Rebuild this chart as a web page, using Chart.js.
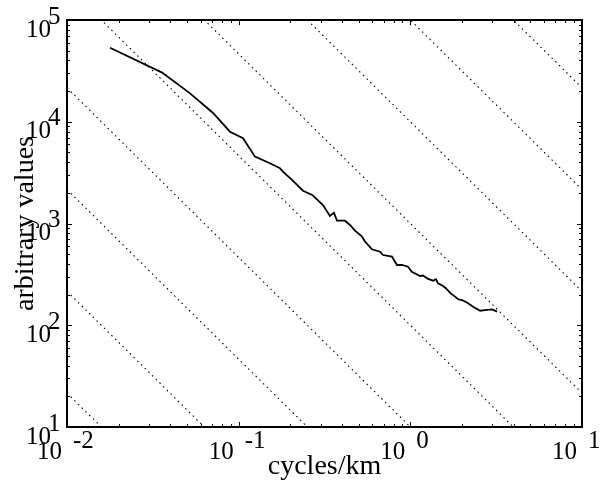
<!DOCTYPE html>
<html>
<head>
<meta charset="utf-8">
<script src="https://cdn.jsdelivr.net/npm/chart.js@4"></script>
<style>
body { margin: 0; background: #fff; }
canvas { display: block; }
</style>
</head>
<body>
<canvas id="spectrumChart" width="604" height="486"></canvas>
<script>
const freq = [0.0178, 0.0358, 0.0521, 0.0709, 0.0890, 0.106, 0.1245, 0.152, 0.174, 0.181, 0.2045, 0.237, 0.268, 0.310, 0.340, 0.359, 0.374, 0.416, 0.445, 0.476, 0.523, 0.545, 0.598, 0.666, 0.693, 0.782, 0.836, 0.894, 0.969, 1.02, 1.14, 1.185, 1.27, 1.355, 1.41, 1.45, 1.55, 1.61, 1.70, 1.82, 1.90, 2.00, 2.14, 2.32, 2.55, 2.72, 2.99, 3.11, 3.20];
const power = [53400, 30400, 19000, 12200, 7980, 6880, 4540, 3910, 3490, 3230, 2680, 2100, 1910, 1520, 1185, 1277, 1065, 1065, 967, 850, 742, 662, 558, 528, 490, 472, 391, 391, 376, 336, 305, 308, 285, 274, 283, 258, 243, 231, 209, 191, 180, 177, 167, 152, 139, 141, 143, 139, 136];

// reference lines y = c * x^(-5/3)
const guideLevels = [0.01, 0.1, 1, 10, 100, 1000, 1e4, 1e5, 1e6];
const guideSlope = -5 / 3;

const xTickExp = [-2, -1, 0, 1];
const yTickExp = [1, 2, 3, 4, 5];
const xTitle = 'cycles/km';
const yTitle = 'arbitrary values';

const serif = '"Liberation Serif", "Times New Roman", serif';

const datasets = [];
guideLevels.forEach(c => {
    datasets.push({
        data: [0.01, 10].map(x => ({ x: x, y: c * Math.pow(x, guideSlope) })),
        borderColor: '#000',
        borderWidth: 1.1,
        borderDash: [1.5, 3.7],
        pointRadius: 0,
        showLine: true,
        clip: 0
    });
});
datasets.push({
    data: freq.map((f, i) => ({ x: f, y: power[i] })),
    borderColor: '#000',
    borderWidth: 1.8,
    pointRadius: 0,
    showLine: true,
    tension: 0,
    clip: 0
});

const framePlugin = {
    id: 'frame',
    afterDraw(chart) {
        const ctx = chart.ctx;
        const area = chart.chartArea;
        const xs = chart.scales.x;
        const ys = chart.scales.y;
        ctx.save();
        ctx.strokeStyle = '#000';
        ctx.lineWidth = 1;
        ctx.beginPath();
        for (let e = -2; e <= 1; e++) {
            for (let m = 1; m <= 9; m++) {
                if (e == 1 && m > 1) break;
                const px = Math.round(xs.getPixelForValue(m * Math.pow(10, e))) + 0.5;
                const len = m == 1 ? 5 : 3;
                ctx.moveTo(px, area.bottom);
                ctx.lineTo(px, area.bottom - len);
                ctx.moveTo(px, area.top);
                ctx.lineTo(px, area.top + len);
            }
        }
        for (let e = 1; e <= 5; e++) {
            for (let m = 1; m <= 9; m++) {
                if (e == 5 && m > 1) break;
                const py = Math.round(ys.getPixelForValue(m * Math.pow(10, e))) + 0.5;
                const len = m == 1 ? 5 : 3;
                ctx.moveTo(area.left, py);
                ctx.lineTo(area.left + len, py);
                ctx.moveTo(area.right, py);
                ctx.lineTo(area.right - len, py);
            }
        }
        ctx.stroke();

        ctx.lineWidth = 2;
        ctx.strokeRect(area.left, area.top, area.right - area.left, area.bottom - area.top);

        ctx.fillStyle = '#000';
        ctx.font = '25px ' + serif;
        xTickExp.forEach(e => {
            const px = xs.getPixelForValue(Math.pow(10, e));
            ctx.textAlign = 'right';
            ctx.fillText('10', px - 5, area.bottom + 32);
            ctx.textAlign = 'left';
            ctx.fillText(String(e), px + 6, area.bottom + 21);
        });
        yTickExp.forEach(e => {
            const py = ys.getPixelForValue(Math.pow(10, e));
            ctx.textAlign = 'right';
            ctx.fillText('10', area.left - 16, py + 16.5);
            ctx.textAlign = 'left';
            ctx.fillText(String(e), area.left - 19, py + 3.5);
        });

        ctx.font = '28px ' + serif;
        ctx.textAlign = 'center';
        ctx.fillText(xTitle, (area.left + area.right) / 2, 474);
        ctx.translate(33, (area.top + area.bottom) / 2);
        ctx.rotate(-Math.PI / 2);
        ctx.fillText(yTitle, 0, 0);
        ctx.restore();
    }
};

const ctx = document.getElementById('spectrumChart').getContext('2d');
const spectrumChart = new Chart(ctx, {
    type: 'scatter',
    data: { datasets: datasets },
    options: {
        responsive: false,
        animation: false,
        layout: { padding: { left: 67, right: 22, top: 20, bottom: 59 } },
        scales: {
            x: { type: 'logarithmic', min: 0.01, max: 10, display: false },
            y: { type: 'logarithmic', min: 10, max: 1e5, display: false }
        },
        plugins: {
            legend: { display: false },
            tooltip: { enabled: false }
        }
    },
    plugins: [framePlugin]
});
</script>
</body>
</html>
